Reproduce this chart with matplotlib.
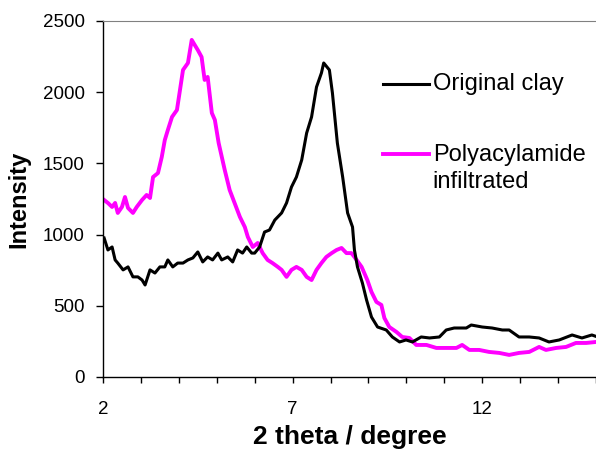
import matplotlib.pyplot as plt
import numpy as np

# XRD pattern
x_clay = [2.03, 2.13, 2.24, 2.32, 2.39, 2.53, 2.66, 2.79, 2.92, 3.03, 3.11, 3.24, 3.37, 3.5,
          3.63, 3.71, 3.84, 3.97, 4.11, 4.24, 4.37, 4.5, 4.63, 4.76, 4.89, 5.03, 5.13, 5.29,
          5.42, 5.55, 5.68, 5.79, 5.92, 6.0, 6.13, 6.26, 6.39, 6.53, 6.71, 6.84, 6.97, 7.1,
          7.24, 7.37, 7.5, 7.63, 7.76, 7.82, 7.97, 8.05, 8.18, 8.32, 8.45, 8.58, 8.63, 8.71,
          8.84, 8.95, 9.08, 9.24, 9.47, 9.63, 9.82, 9.99, 10.16, 10.39, 10.61, 10.87, 11.05,
          11.26, 11.58, 11.71, 12.0, 12.26, 12.53, 12.71, 12.97, 13.24, 13.5, 13.76, 14.03,
          14.37, 14.63, 14.89, 15.0]
y_clay = [976, 892, 913, 822, 800, 752, 773, 703, 703, 681, 646, 752, 730, 773,
          773, 822, 773, 800, 800, 822, 836, 878, 808, 843, 822, 870, 822, 843,
          808, 892, 870, 913, 870, 870, 913, 1018, 1032, 1102, 1152, 1222, 1334, 1404,
          1524, 1713, 1826, 2036, 2135, 2205, 2156, 1994, 1643, 1404, 1152, 1053, 892, 773,
          660, 541, 421, 351, 330, 281, 246, 260, 246, 281, 274, 281, 330,
          344, 344, 365, 351, 344, 330, 330, 281, 281, 274, 246, 260,
          295, 274, 295, 285]

x_paa = [2.03, 2.13, 2.24, 2.32, 2.39, 2.5, 2.58, 2.66, 2.79, 2.89, 3.03, 3.15, 3.24, 3.32,
         3.45, 3.55, 3.63, 3.71, 3.82, 3.95, 4.03, 4.11, 4.24, 4.34, 4.42, 4.5, 4.6, 4.68,
         4.76, 4.87, 4.95, 5.05, 5.21, 5.34, 5.47, 5.61, 5.74, 5.82, 5.95, 6.08, 6.21, 6.34,
         6.47, 6.61, 6.71, 6.84, 6.97, 7.1, 7.24, 7.37, 7.5, 7.63, 7.76, 7.89, 8.03, 8.16,
         8.29, 8.42, 8.55, 8.63, 8.82, 8.97, 9.08, 9.21, 9.34, 9.42, 9.55, 9.74, 9.89, 10.08,
         10.26, 10.53, 10.79, 11.05, 11.32, 11.47, 11.66, 11.92, 12.18, 12.45, 12.71, 12.97,
         13.24, 13.5, 13.68, 13.95, 14.21, 14.47, 14.74, 15.0]
y_paa = [1243, 1222, 1194, 1222, 1152, 1194, 1264, 1187, 1152, 1194, 1243, 1278, 1257, 1404,
         1432, 1545, 1664, 1734, 1826, 1875, 2015, 2156, 2205, 2367, 2331, 2296, 2247, 2086,
         2107, 1854, 1805, 1643, 1454, 1313, 1222, 1124, 1053, 983, 913, 941, 870, 822,
         800, 773, 752, 703, 752, 773, 752, 703, 681, 752, 800, 843, 870, 892,
         906, 870, 870, 843, 773, 681, 597, 527, 506, 414, 351, 316, 281, 274,
         225, 225, 204, 204, 204, 225, 190, 190, 176, 169, 155, 169,
         176, 211, 190, 204, 211, 239, 239, 246]

plt.rcParams['font.family'] = ['Liberation Sans', 'DejaVu Sans']

fig = plt.figure(figsize=(5.96, 4.51), dpi=100)
ax = fig.add_axes([0.1728, 0.1641, 0.8272, 0.7894])

ax.plot(x_paa, y_paa, color='#FF00FF', linewidth=2.8)
ax.plot(x_clay, y_clay, color='black', linewidth=2.2)

ax.set_xlim(2, 15)
ax.set_ylim(0, 2500)
ax.set_xticks([2, 7, 12])
ax.set_xticks(np.arange(2, 16), minor=True)
ax.set_yticks(np.arange(0, 2501, 500))

ax.tick_params(axis='x', which='both', direction='out', length=4, width=1, pad=13, labelsize=13.5)
ax.tick_params(axis='y', which='both', direction='out', length=5, width=1, pad=8, labelsize=13.5)

ax.spines['right'].set_visible(False)
ax.spines['top'].set_color('#808080')
ax.spines['left'].set_linewidth(1)
ax.spines['bottom'].set_linewidth(1)

ax.set_xlabel('2 theta / degree', fontsize=19, fontweight='bold', labelpad=5)
ax.set_ylabel('Intensity', fontsize=17, fontweight='bold', labelpad=9)

# legend drawn by hand, in axes fraction
ax.plot([0.568, 0.661], [0.824, 0.824], color='black', linewidth=2.2, transform=ax.transAxes)
ax.text(0.669, 0.806, 'Original clay', fontsize=17, va='baseline', ha='left', transform=ax.transAxes)
ax.plot([0.568, 0.661], [0.626, 0.626], color='#FF00FF', linewidth=2.8, transform=ax.transAxes)
ax.text(0.669, 0.531, 'Polyacylamide\ninfiltrated', fontsize=17, va='baseline', ha='left',
        linespacing=1.3, transform=ax.transAxes)

fig.savefig('out.png', dpi=100)
